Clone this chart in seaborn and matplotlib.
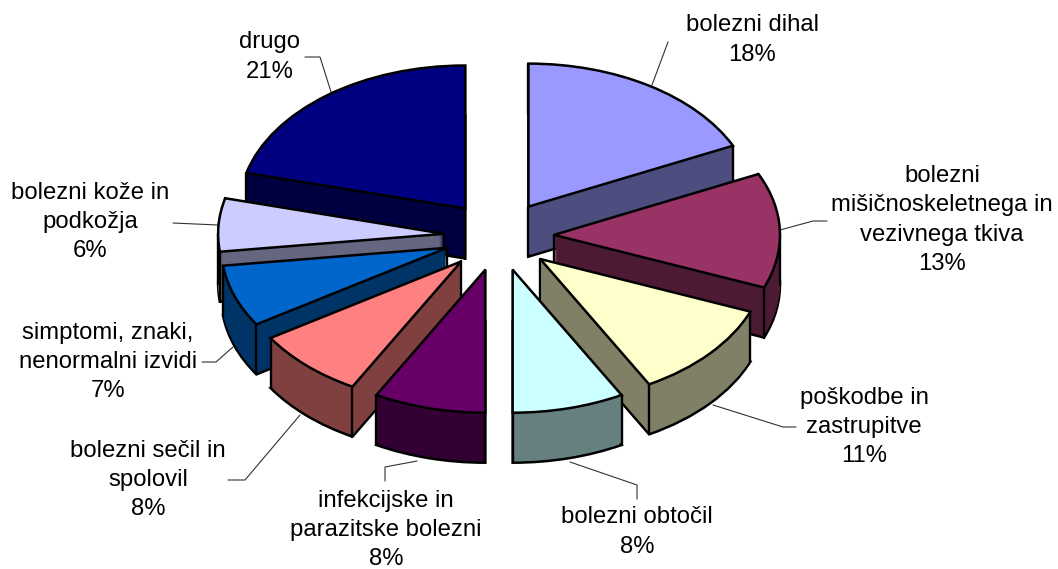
import matplotlib
matplotlib.use("Agg")
import matplotlib.pyplot as plt
import numpy as np
import seaborn as sns

categories = ["bolezni dihal", "bolezni\nmišičnoskeletnega in\nvezivnega tkiva", "poškodbe in\nzastrupitve",
              "bolezni obtočil", "infekcijske in\nparazitske bolezni", "bolezni sečil in\nspolovil",
              "simptomi, znaki,\nnenormalni izvidi", "bolezni kože in\npodkožja", "drugo"]
values = [18, 13, 11, 8, 8, 8, 7, 6, 21]
colors = ["#9999FF", "#993366", "#FFFFCC", "#CCFFFF", "#660066", "#FF8080", "#0066CC", "#CCCCFF", "#000080"]

# label centres in pixels, same order as categories
label_pos = [(752, 40), (942, 220), (864, 427), (637, 532), (386, 530), (148, 480), (108, 362), (90, 222), (270, 57)]
# leader lines in pixels
leaders = [
    [(668, 42), (652, 85)],
    [(780, 230), (813, 221), (827, 221)],
    [(713, 405), (783, 427), (796, 427)],
    [(570, 462), (637, 485), (637, 499)],
    [(417, 461), (385, 467), (385, 481)],
    [(300, 415), (245, 480), (228, 480)],
    [(233, 347), (216, 362), (202, 362)],
    [(218, 225), (173, 223)],
    [(305, 57), (320, 57), (332, 95)],
]

W, H = 1058, 569
CX, CY = 499, 236       # pie centre in pixels
RX, RY = 226, 143       # pie radius in pixels
DEPTH = 50
EXPLODE = 55 / 226

sns.set_theme(style="white")
plt.rcParams["font.family"] = ["Liberation Sans", "DejaVu Sans"]

fig = plt.figure(figsize=(W / 100, H / 100), dpi=100)
ax = fig.add_axes([0, 0, 1, 1])
palette = sns.color_palette(colors)
dark = [tuple(np.array(c) * 0.5) for c in palette]
explode = [EXPLODE] * len(values)


def layer(offset, cols, **kw):
    wedges, _ = ax.pie(values, explode=explode, colors=cols, startangle=90, counterclock=False,
                       center=(0, -offset), radius=1, wedgeprops=kw)
    return wedges


# wedges further back are drawn first
mids = 90 - (np.cumsum(values) - np.array(values) / 2) * 3.6
front = np.argsort(np.argsort(-np.sin(np.radians(mids))))
depth = DEPTH / RY

# bottom outline, then the walls swept upwards, then the top faces
for w, f in zip(layer(depth, dark, edgecolor="black", linewidth=1.8), front):
    w.set_zorder(f * 10 + 1)
for d in np.arange(0, DEPTH - 1, 1.0):
    for w, f in zip(layer(d / RY, dark, edgecolor="none", linewidth=0), front):
        w.set_zorder(f * 10 + 2)
for w, f in zip(layer(0, palette, edgecolor="black", linewidth=1.8), front):
    w.set_zorder(f * 10 + 4)
    # vertical edges at the corners and at the left/right extremes
    cx, cy = w.center
    corners = [(cx, cy)]
    angles = [w.theta1, w.theta2] + [a for a in (-360, -180, 0, 180) if w.theta1 < a < w.theta2]
    for a in angles:
        corners.append((cx + np.cos(np.radians(a)), cy + np.sin(np.radians(a))))
    for x, y in corners:
        ax.plot([x, x], [y, y - depth], color="black", lw=1.7, zorder=f * 10 + 3, solid_capstyle="round")

ax.set_aspect("auto")
ax.set_xlim(-CX / RX, (W - CX) / RX)
ax.set_ylim(-(H - CY) / RY, CY / RY)
ax.axis("off")

# labels and leader lines sit in pixel space
to_axes = lambda x, y: (x / W, 1 - y / H)
for name, v, (x, y), pts in zip(categories, values, label_pos, leaders):
    ax.text(*to_axes(x, y), f"{name}\n{v}%", transform=ax.transAxes, ha="center", va="center",
            fontsize=17.2, color="black", linespacing=1.43, zorder=200)
    xy = np.array([to_axes(*p) for p in pts])
    ax.plot(xy[:, 0], xy[:, 1], transform=ax.transAxes, color="#333333", lw=0.8, zorder=0.5)

fig.savefig("out.png", dpi=100)
